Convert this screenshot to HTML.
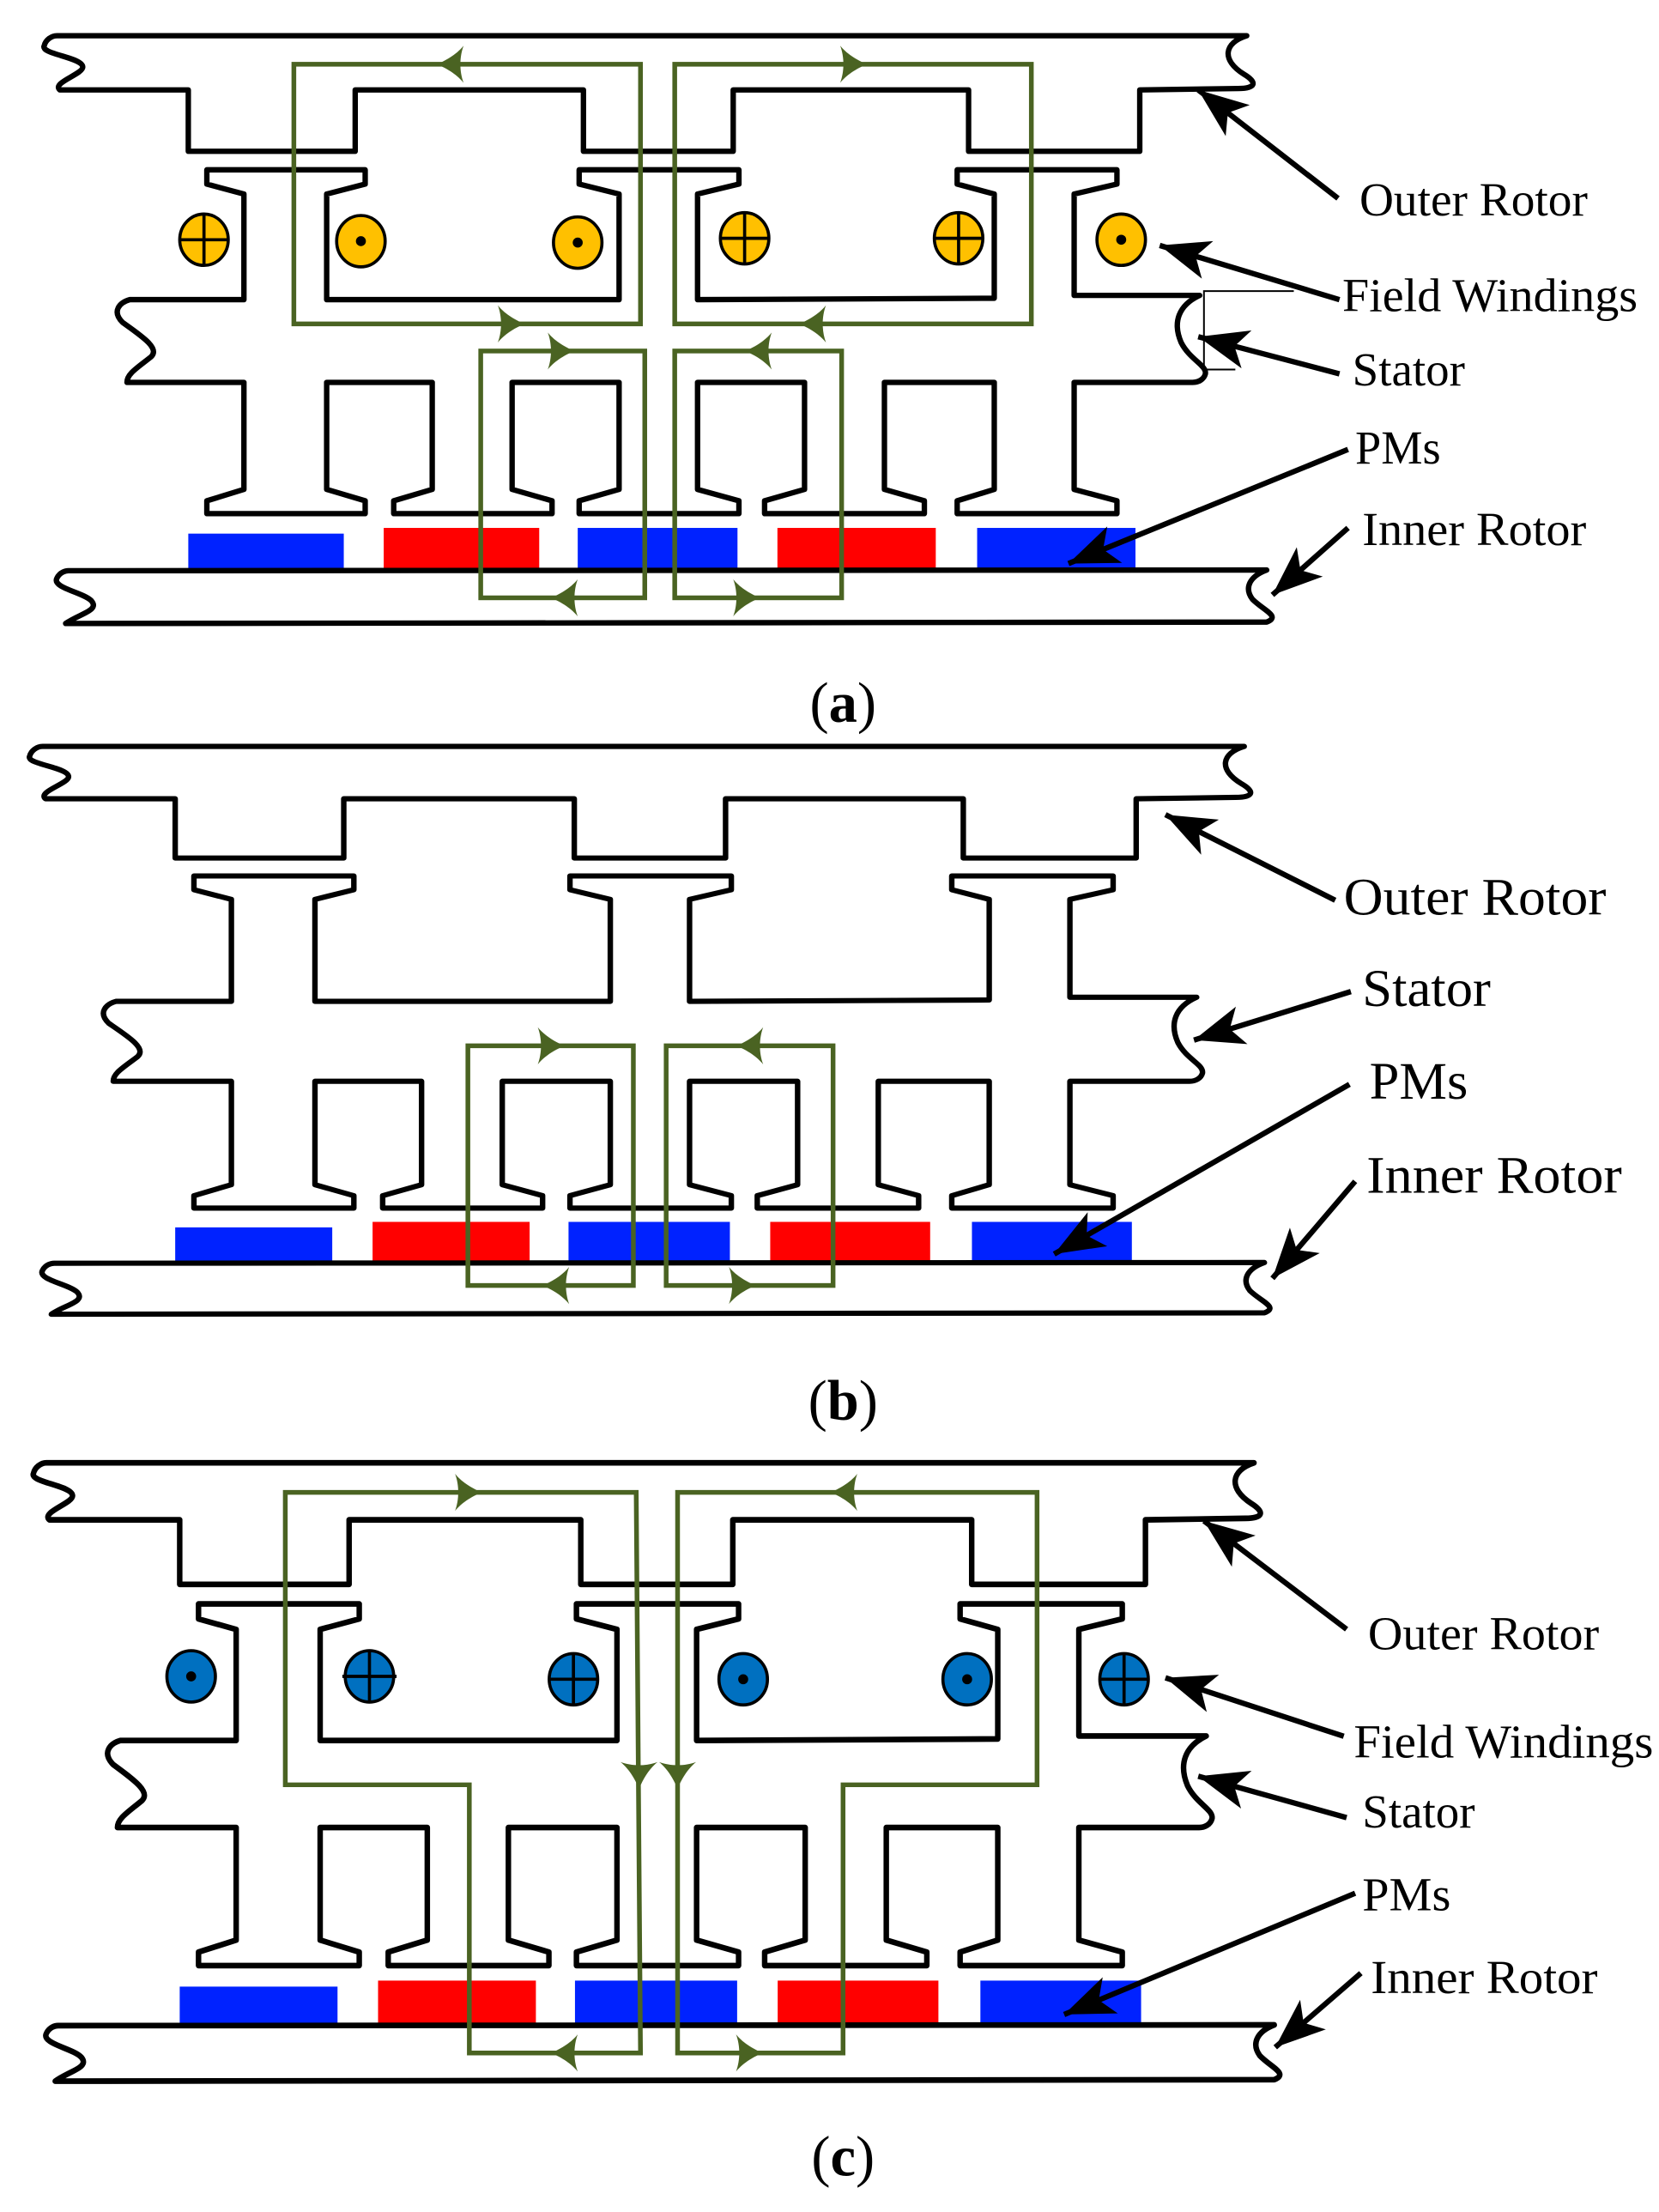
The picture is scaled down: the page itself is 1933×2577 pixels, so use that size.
<!DOCTYPE html>
<html><head><meta charset="utf-8"><style>
html,body{margin:0;padding:0;background:#fff;}
svg{display:block;}
text{font-family:"Liberation Serif",serif;fill:#000;}
</style></head><body>
<svg width="1933" height="2577" viewBox="0 0 1163 1550.4" xmlns="http://www.w3.org/2000/svg">
<defs>
<marker id="ah" markerUnits="userSpaceOnUse" markerWidth="40" markerHeight="40" refX="0" refY="0" orient="auto" viewBox="-30 -15 32 30">
<path d="M0,0 L-28,-11 L-21,0 L-28,11 Z" fill="#000"/>
</marker>
<g id="mach">
<path d="M40,25 L874,25 C858,30 856,42 872,52 C882,58 880,62 868,62 L799,63 L799,106 L679,106 L679,63 L514,63 L514,106 L409,106 L409,63 L249,63 L249,106 L132,106 L132,63 L42,63 C36,58 58,52 58,47 C58,40 28,38 31,32 C32,28 36,25 40,25 Z" fill="none" stroke="#000" stroke-width="3.8" stroke-linejoin="round"/>
<path d="M91,210 L171,210 L171,136 L145,129 L145,119 L256,119 L256,129 L229,136 L229,210 L434,210 L434,136 L406,129 L406,119 L518,119 L518,129 L489,136 L489,210 L697,209 L697,136 L671,129 L671,119 L783,119 L783,129 L753,136 L753,207 L841,207 C826,214 822,226 828,240 C834,252 846,256 845,262 C844,266 840,268 836,268 L753,268 L753,343 L783,351 L783,360 L671,360 L671,351 L697,343 L697,268 L620,268 L620,343 L648,351 L648,360 L536,360 L536,351 L564,343 L564,268 L489,268 L489,343 L518,351 L518,360 L406,360 L406,351 L434,343 L434,268 L359,268 L359,343 L387,351 L387,360 L276,360 L276,351 L303,343 L303,268 L229,268 L229,343 L256,351 L256,360 L145,360 L145,351 L171,343 L171,268 L89,268 C89,262 96,258 106,250 C112,244 100,236 86,226 C78,218 84,212 91,210 Z" fill="none" stroke="#000" stroke-width="3.8" stroke-linejoin="round"/>
<rect x="132" y="374" width="109" height="25" fill="#0022ff"/>
<rect x="269" y="370" width="109" height="29" fill="#ff0000"/>
<rect x="405" y="370" width="112" height="29" fill="#0022ff"/>
<rect x="545" y="370" width="111" height="29" fill="#ff0000"/>
<rect x="685" y="370" width="111" height="29" fill="#0022ff"/>
<path d="M48,400 L888,399.5 C876,404 872,412 878,420 C886,428 898,432 888,436 L46,437 C56,430 70,428 64,421 C58,415 36,412 40,405 C42,401 46,400 48,400 Z" fill="none" stroke="#000" stroke-width="3.8" stroke-linejoin="round"/>
</g>
<path id="ga" d="M0,0 C-8,-3 -15,-8 -19,-13 C-16,-5 -16,5 -19,13 C-15,8 -8,3 0,0 Z"/>
</defs>

<!-- ===== Panel (a) ===== -->
<use href="#mach"/>
<g stroke="#000" stroke-width="2.2" fill="#ffc000">
<ellipse cx="143" cy="168" rx="17" ry="18"/><line x1="126" y1="168" x2="160" y2="168"/><line x1="143" y1="150" x2="143" y2="186"/>
<ellipse cx="253" cy="169" rx="17" ry="18"/>
<ellipse cx="405" cy="170" rx="17" ry="18"/>
<ellipse cx="522" cy="167" rx="17" ry="18"/><line x1="505" y1="167" x2="539" y2="167"/><line x1="522" y1="149" x2="522" y2="185"/>
<ellipse cx="672" cy="167" rx="17" ry="18"/><line x1="655" y1="167" x2="689" y2="167"/><line x1="672" y1="149" x2="672" y2="185"/>
<ellipse cx="786" cy="168" rx="17" ry="18"/>
</g>
<g fill="#000"><circle cx="253" cy="169" r="3.5"/><circle cx="405" cy="170" r="3.5"/><circle cx="786" cy="168" r="3.5"/></g>
<g fill="none" stroke="#4a6322" stroke-width="3.3">
<rect x="206" y="45" width="243" height="182"/>
<rect x="473" y="45" width="250" height="182"/>
<rect x="337" y="246" width="115" height="173"/>
<rect x="473" y="246" width="117" height="173"/>
</g>
<g fill="#4a6322">
<use href="#ga" transform="translate(306,45) rotate(180)"/>
<use href="#ga" transform="translate(368,227)"/>
<use href="#ga" transform="translate(608,45)"/>
<use href="#ga" transform="translate(560,227) rotate(180)"/>
<use href="#ga" transform="translate(403,246)"/>
<use href="#ga" transform="translate(386,419) rotate(180)"/>
<use href="#ga" transform="translate(522,246) rotate(180)"/>
<use href="#ga" transform="translate(533,419)"/>
</g>
<g stroke="#000" stroke-width="3.8" marker-end="url(#ah)">
<line x1="938" y1="139" x2="840" y2="63"/>
<line x1="939" y1="210" x2="813" y2="172"/>
<line x1="939" y1="262" x2="840" y2="236"/>
<line x1="945" y1="315" x2="749" y2="395"/>
<line x1="945" y1="370" x2="892" y2="417"/>
</g>
<path d="M907,204 L844,204 L844,259 L866,259" fill="none" stroke="#000" stroke-width="1.2"/>
<g font-size="33">
<text x="953" y="151" textLength="160" lengthAdjust="spacingAndGlyphs">Outer Rotor</text>
<text x="941" y="218" textLength="207" lengthAdjust="spacingAndGlyphs">Field Windings</text>
<text x="948" y="270" textLength="79" lengthAdjust="spacingAndGlyphs">Stator</text>
<text x="950" y="325" textLength="60" lengthAdjust="spacingAndGlyphs">PMs</text>
<text x="955" y="382" textLength="157" lengthAdjust="spacingAndGlyphs">Inner Rotor</text>
</g>
<text x="591" y="506" font-size="40" text-anchor="middle">(<tspan font-weight="bold">a</tspan>)</text>

<!-- ===== Panel (b) ===== -->
<use href="#mach" transform="matrix(1.01,0,0,0.966,-10.5,499)"/>
<g fill="none" stroke="#4a6322" stroke-width="3.3">
<rect x="328" y="733" width="116" height="168"/>
<rect x="467" y="733" width="117" height="168"/>
</g>
<g fill="#4a6322">
<use href="#ga" transform="translate(396,733)"/>
<use href="#ga" transform="translate(380,901) rotate(180)"/>
<use href="#ga" transform="translate(516,733) rotate(180)"/>
<use href="#ga" transform="translate(530,901)"/>
</g>
<g stroke="#000" stroke-width="3.8" marker-end="url(#ah)">
<line x1="936" y1="631" x2="817" y2="571"/>
<line x1="947" y1="695" x2="837" y2="729"/>
<line x1="946" y1="760" x2="739" y2="879"/>
<line x1="950" y1="828" x2="892" y2="896"/>
</g>
<g font-size="37">
<text x="942" y="641" textLength="184" lengthAdjust="spacingAndGlyphs">Outer Rotor</text>
<text x="955" y="705" textLength="90" lengthAdjust="spacingAndGlyphs">Stator</text>
<text x="960" y="770" textLength="69" lengthAdjust="spacingAndGlyphs">PMs</text>
<text x="958" y="836" textLength="179" lengthAdjust="spacingAndGlyphs">Inner Rotor</text>
</g>
<text x="591" y="995" font-size="40" text-anchor="middle">(<tspan font-weight="bold">b</tspan>)</text>

<!-- ===== Panel (c) ===== -->
<use href="#mach" transform="matrix(1.015,0,0,1.052,-8,999)"/>
<g stroke="#000" stroke-width="2.2" fill="#0070c0">
<ellipse cx="134" cy="1175" rx="17" ry="18"/>
<ellipse cx="259" cy="1175" rx="17" ry="18"/><line x1="240" y1="1175" x2="278" y2="1175"/><line x1="259" y1="1156" x2="259" y2="1194"/>
<ellipse cx="402" cy="1177" rx="17" ry="18"/><line x1="385" y1="1177" x2="419" y2="1177"/><line x1="402" y1="1159" x2="402" y2="1195"/>
<ellipse cx="521" cy="1177" rx="17" ry="18"/>
<ellipse cx="678" cy="1177" rx="17" ry="18"/>
<ellipse cx="788" cy="1177" rx="17" ry="18"/><line x1="771" y1="1177" x2="805" y2="1177"/><line x1="788" y1="1159" x2="788" y2="1195"/>
</g>
<g fill="#000"><circle cx="134" cy="1175" r="3.5"/><circle cx="521" cy="1177" r="3.5"/><circle cx="678" cy="1177" r="3.5"/></g>
<g fill="none" stroke="#4a6322" stroke-width="3.3" stroke-linejoin="miter">
<path d="M200,1046 L446,1046 L449,1439 L329,1439 L329,1251 L200,1251 Z"/>
<path d="M475,1046 L727,1046 L727,1251 L591,1251 L591,1439 L475,1439 Z"/>
</g>
<g fill="#4a6322">
<use href="#ga" transform="translate(338,1046)"/>
<use href="#ga" transform="translate(582,1046) rotate(180)"/>
<use href="#ga" transform="translate(448,1254) rotate(90)"/>
<use href="#ga" transform="translate(475,1254) rotate(90)"/>
<use href="#ga" transform="translate(386,1439) rotate(180)"/>
<use href="#ga" transform="translate(535,1439)"/>
</g>
<g stroke="#000" stroke-width="3.8" marker-end="url(#ah)">
<line x1="944" y1="1142" x2="844" y2="1066"/>
<line x1="942" y1="1217" x2="817" y2="1176"/>
<line x1="944" y1="1274" x2="840" y2="1245"/>
<line x1="950" y1="1327" x2="746" y2="1412"/>
<line x1="954" y1="1383" x2="894" y2="1435"/>
</g>
<g font-size="33">
<text x="959" y="1156" textLength="162" lengthAdjust="spacingAndGlyphs">Outer Rotor</text>
<text x="949" y="1232" textLength="210" lengthAdjust="spacingAndGlyphs">Field Windings</text>
<text x="955" y="1281" textLength="79" lengthAdjust="spacingAndGlyphs">Stator</text>
<text x="955" y="1339" textLength="62" lengthAdjust="spacingAndGlyphs">PMs</text>
<text x="961" y="1397" textLength="159" lengthAdjust="spacingAndGlyphs">Inner Rotor</text>
</g>
<text x="591" y="1525" font-size="40" text-anchor="middle">(<tspan font-weight="bold">c</tspan>)</text>
</svg>
</body></html>
